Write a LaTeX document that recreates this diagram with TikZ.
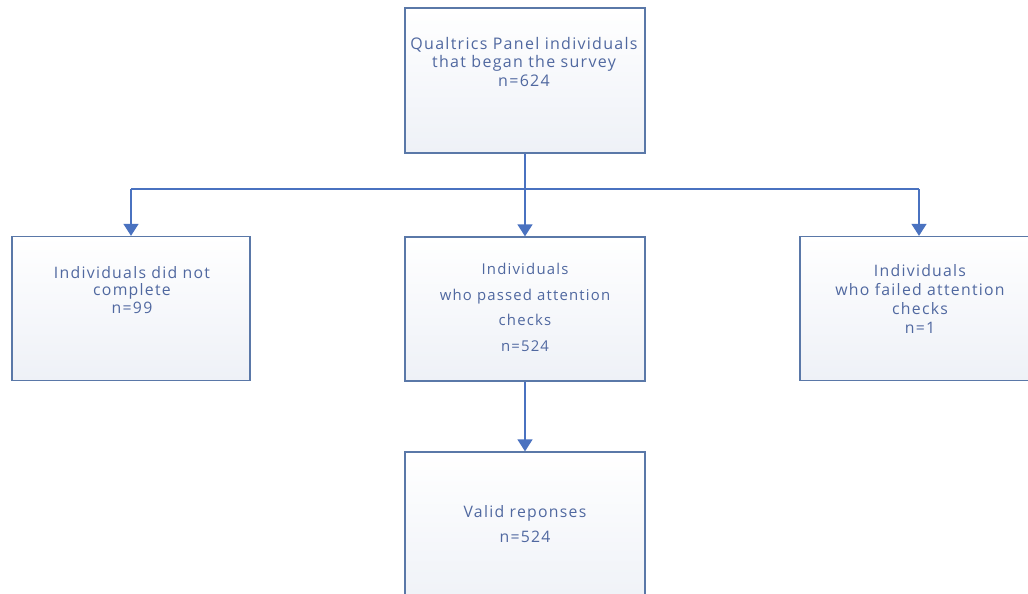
\documentclass[tikz,border=0pt]{standalone}
\usepackage{fontspec}
\setmainfont{Open Sans}[LetterSpace=8]
\usetikzlibrary{arrows.meta}
\definecolor{linec}{HTML}{4A72C0}
\definecolor{boxc}{HTML}{5A78A8}
\definecolor{txtc}{HTML}{5068A0}
\definecolor{fillc}{HTML}{EEF1F7}
\tikzset{
  flowbox/.style={draw=boxc, line width=1.3pt, top color=white, bottom color=fillc,
    minimum width=238pt, minimum height=144pt, inner sep=0pt},
  boxtext/.style={text=txtc, align=center, inner sep=0pt},
  conn/.style={draw=linec, line width=1.4pt},
  arr/.style={conn, -{Triangle[length=12pt,width=15pt]}}
}
\begin{document}
\begin{tikzpicture}[x=1pt,y=-1pt]
\useasboundingbox (0,0) rectangle (1028,594);
\begin{scope}
\clip (0,0) rectangle (1028,594);
\node[flowbox, minimum width=240pt, minimum height=145pt] (top) at (525,80.5) {};
\node[flowbox] (left) at (131,308.5) {};
\node[flowbox, minimum width=240pt] (mid) at (525,309) {};
\node[flowbox] (right) at (919,308.5) {};
\node[flowbox, minimum width=240pt, minimum height=160pt] (valid) at (525,532) {};
\node[boxtext, font=\fontsize{16}{18.5}\selectfont] (toptxt) at (524,61.5) {Qualtrics Panel individuals\\that began the survey\\n=624};
\node[boxtext, font=\fontsize{15.8}{17.5}\selectfont] (lefttxt) at (132,290) {Individuals did not\\complete\\n=99};
\node[boxtext, font=\fontsize{14.9}{25.5}\selectfont] (midtxt) at (525,307.5) {Individuals\\who passed attention\\checks\\n=524};
\node[boxtext, font=\fontsize{15.8}{18.7}\selectfont] (righttxt) at (920,299) {Individuals\\who failed attention\\checks\\n=1};
\node[boxtext, font=\fontsize{15.8}{25}\selectfont] (validtxt) at (525,524.5) {Valid reponses\\n=524};
\coordinate (split) at (525,189);
\coordinate (lturn) at (131,189);
\coordinate (rturn) at (919,189);
\draw[conn] (top.south) -- (split);
\draw[conn] (lturn) -- (rturn);
\draw[arr] (lturn) -- (left.north);
\draw[arr] (split) -- (mid.north);
\draw[arr] (rturn) -- (right.north);
\draw[arr] (mid.south) -- (valid.north);
\end{scope}
\end{tikzpicture}
\end{document}
